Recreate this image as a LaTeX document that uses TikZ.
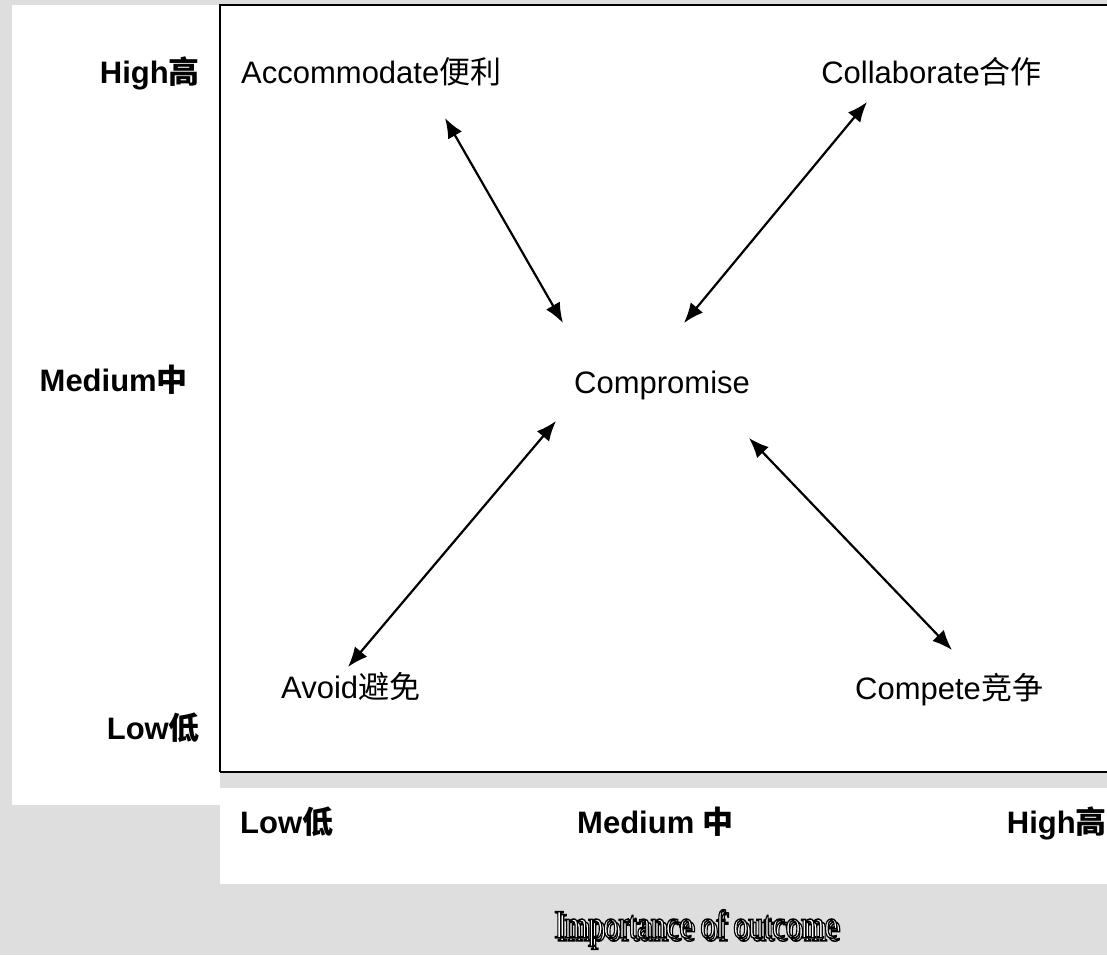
\documentclass[tikz,border=0pt]{standalone}
\usepackage{fontspec}
\setmainfont{Liberation Sans}
\newfontfamily\cjk{Noto Sans CJK SC}
\newfontfamily\titlefont{Liberation Serif}
\usetikzlibrary{arrows.meta,calc}
\definecolor{bggray}{RGB}{222,222,222}
\newcommand{\outlinetext}[1]{\special{pdf:literal direct 0 G 2 Tr 1.5 w}#1\special{pdf:literal direct 0 Tr}}
\tikzset{
  lbl/.style={inner sep=0pt, font=\fontsize{31}{36}\selectfont},
  blbl/.style={inner sep=0pt, font=\fontsize{31}{36}\selectfont\bfseries},
  dbl/.style={line width=2.2pt, {Latex[length=20pt,width=16pt]}-{Latex[length=20pt,width=16pt]}},
  ttl/.style={inner sep=0pt, font=\fontsize{40}{44}\selectfont\titlefont, xscale=0.76, text=white}
}
\begin{document}
\begin{tikzpicture}[x=1pt,y=-1pt]
\useasboundingbox (0,0) rectangle (1107,955);
% background
\fill[bggray] (0,0) rectangle (1107,955);
\fill[white] (12,5) rectangle (220,805);
\fill[white] (220,5) rectangle (1107,772);
\fill[white] (220,788) rectangle (1107,884);
% frame
\draw[line width=1.3pt] (1107,5) -- (220,5) -- (220,772);
\draw[line width=2.6pt] (220,772) -- (1107,772);
% left axis labels
\node[blbl, anchor=base east] (yh) at (200,84) {High{\cjk 高}};
\node[blbl, anchor=base east] (ym) at (188,391) {Medium{\cjk 中}};
\node[blbl, anchor=base east] (yl) at (200,739) {Low{\cjk 低}};
% bottom axis labels
\node[blbl, anchor=base west] (xl) at (240,833) {Low{\cjk 低}};
\node[blbl, anchor=base west] (xm) at (577,833) {Medium {\cjk 中}};
\node[blbl, anchor=base east] (xh) at (1107,833) {High{\cjk 高}};
% styles
\node[lbl, anchor=base west] (acc) at (241,84) {Accommodate{\cjk 便利}};
\node[lbl, anchor=base east] (col) at (1042,84) {Collaborate{\cjk 合作}};
\node[lbl, anchor=base west] (cmp) at (574,393) {Compromise};
\node[lbl, anchor=base west] (avo) at (281,698) {Avoid{\cjk 避免}};
\node[lbl, anchor=base west] (cpt) at (855,699) {Compete{\cjk 竞争}};
% arrow ends
\coordinate (a1) at (445,118);
\coordinate (a2) at (563,323);
\coordinate (c1) at (867,102);
\coordinate (c2) at (684,323);
\coordinate (v1) at (556,421);
\coordinate (v2) at (348,667);
\coordinate (p1) at (749,438);
\coordinate (p2) at (952,650);
\draw[dbl] (a1) -- (a2);
\draw[dbl] (c1) -- (c2);
\draw[dbl] (v1) -- (v2);
\draw[dbl] (p1) -- (p2);
% title: outlined text with shadow
\node[ttl] (shadow) at (699,931) {\outlinetext{Importance of outcome}};
\node[ttl] (title) at (696,928) {\outlinetext{Importance of outcome}};
\end{tikzpicture}
\end{document}
